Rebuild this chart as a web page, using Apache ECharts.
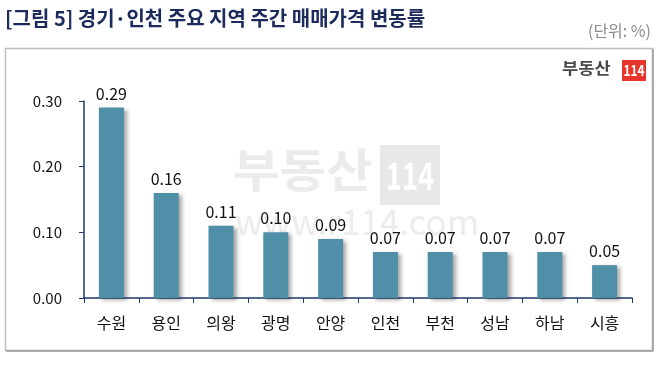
<!DOCTYPE html>
<html><head><meta charset="utf-8">
<script src="https://cdn.jsdelivr.net/npm/echarts@6/dist/echarts.min.js"></script>
<style>html,body{margin:0;padding:0;background:#fff}#c{width:664px;height:365px}</style>
</head><body><div id="c"></div>
<script>
const categories = ['수원','용인','의왕','광명','안양','인천','부천','성남','하남','시흥'];
const values = [0.29,0.16,0.11,0.10,0.09,0.07,0.07,0.07,0.07,0.05];
const yTicks = [0, 0.1, 0.2, 0.3];
const titleText = '[그림 5] 경기·인천 주요 지역 주간 매매가격 변동률';
const unitText = '(단위: %)';

const font = '"Noto Sans CJK KR", "Noto Sans", sans-serif';
const chart = echarts.init(document.getElementById('c'));
chart.setOption({
  animation: false,
  backgroundColor: '#fff',
  graphic: [
    { type: 'rect', z: 0, shape: { x: 5.5, y: 48.5, width: 647, height: 302 },
      style: { fill: 'none', stroke: '#bdbdbd', lineWidth: 1.5 } },
    { type: 'line', z: 0, shape: { x1: 6, y1: 351, x2: 653, y2: 351 }, style: { stroke: '#9a9a9a', lineWidth: 1.5 } },
    { type: 'line', z: 0, shape: { x1: 653, y1: 49, x2: 653, y2: 351 }, style: { stroke: '#9a9a9a', lineWidth: 1.5 } },
    { type: 'text', x: 5, y: 8, style: { text: titleText, font: 'bold 20px ' + font, fill: '#1c2b5c' } },
    { type: 'text', x: 651, y: 23, style: { text: unitText, font: '16px ' + font, fill: '#8a8a8a', textAlign: 'right' } },
    // watermark
    { type: 'text', z: 1, x: 233, y: 147, scaleX: 1.1, style: { text: '부동산', font: 'bold 46px ' + font, fill: '#ebebeb' } },
    { type: 'rect', z: 1, shape: { x: 380, y: 145, width: 60, height: 60 }, style: { fill: '#e8e8e8' } },
    { type: 'text', z: 1, x: 410, y: 176, scaleX: 0.72, style: { text: '114', font: 'bold 38px ' + font, fill: '#ffffff', textAlign: 'center', textVerticalAlign: 'middle' } },
    { type: 'text', z: 1, x: 235, y: 204, style: { text: 'www.r114.com', font: '35px ' + font, fill: '#ececec' } },
    // logo
    { type: 'text', x: 562, y: 60, scaleX: 1.1, style: { text: '부동산', font: 'bold 16px ' + font, fill: '#4a4a4a' } },
    { type: 'rect', shape: { x: 622, y: 60, width: 24, height: 21 }, style: { fill: '#e8342a' } },
    { type: 'text', x: 634, y: 70.5, scaleX: 0.8, style: { text: '114', font: 'bold 15px ' + font, fill: '#fff', textAlign: 'center', textVerticalAlign: 'middle' } }
  ],
  grid: { left: 84, right: 32, top: 101, bottom: 67 },
  xAxis: {
    type: 'category', data: categories,
    axisLine: { lineStyle: { color: '#1f3a6e', width: 1.5 } },
    axisTick: { show: true, length: 5, lineStyle: { color: '#1f3a6e' } },
    axisLabel: { color: '#111', fontSize: 16, fontFamily: font, margin: 17 }
  },
  yAxis: {
    type: 'value', min: 0, max: 0.3, interval: 0.1,
    splitLine: { show: false },
    axisLine: { show: true, lineStyle: { color: '#1f3a6e', width: 1.5 } },
    axisTick: { show: true, length: 5, lineStyle: { color: '#1f3a6e' } },
    axisLabel: { color: '#111', fontSize: 15, fontFamily: font, margin: 22, formatter: v => v.toFixed(2) }
  },
  series: [{
    type: 'bar', data: values, barWidth: 25, z: 3,
    itemStyle: { color: '#4f8fa8', shadowColor: 'rgba(0,0,0,0.35)', shadowBlur: 4, shadowOffsetX: 3, shadowOffsetY: 2 },
    label: { show: true, position: 'top', distance: 6, color: '#111', fontSize: 16, fontFamily: font, formatter: p => p.value.toFixed(2) }
  }]
});
</script></body></html>
